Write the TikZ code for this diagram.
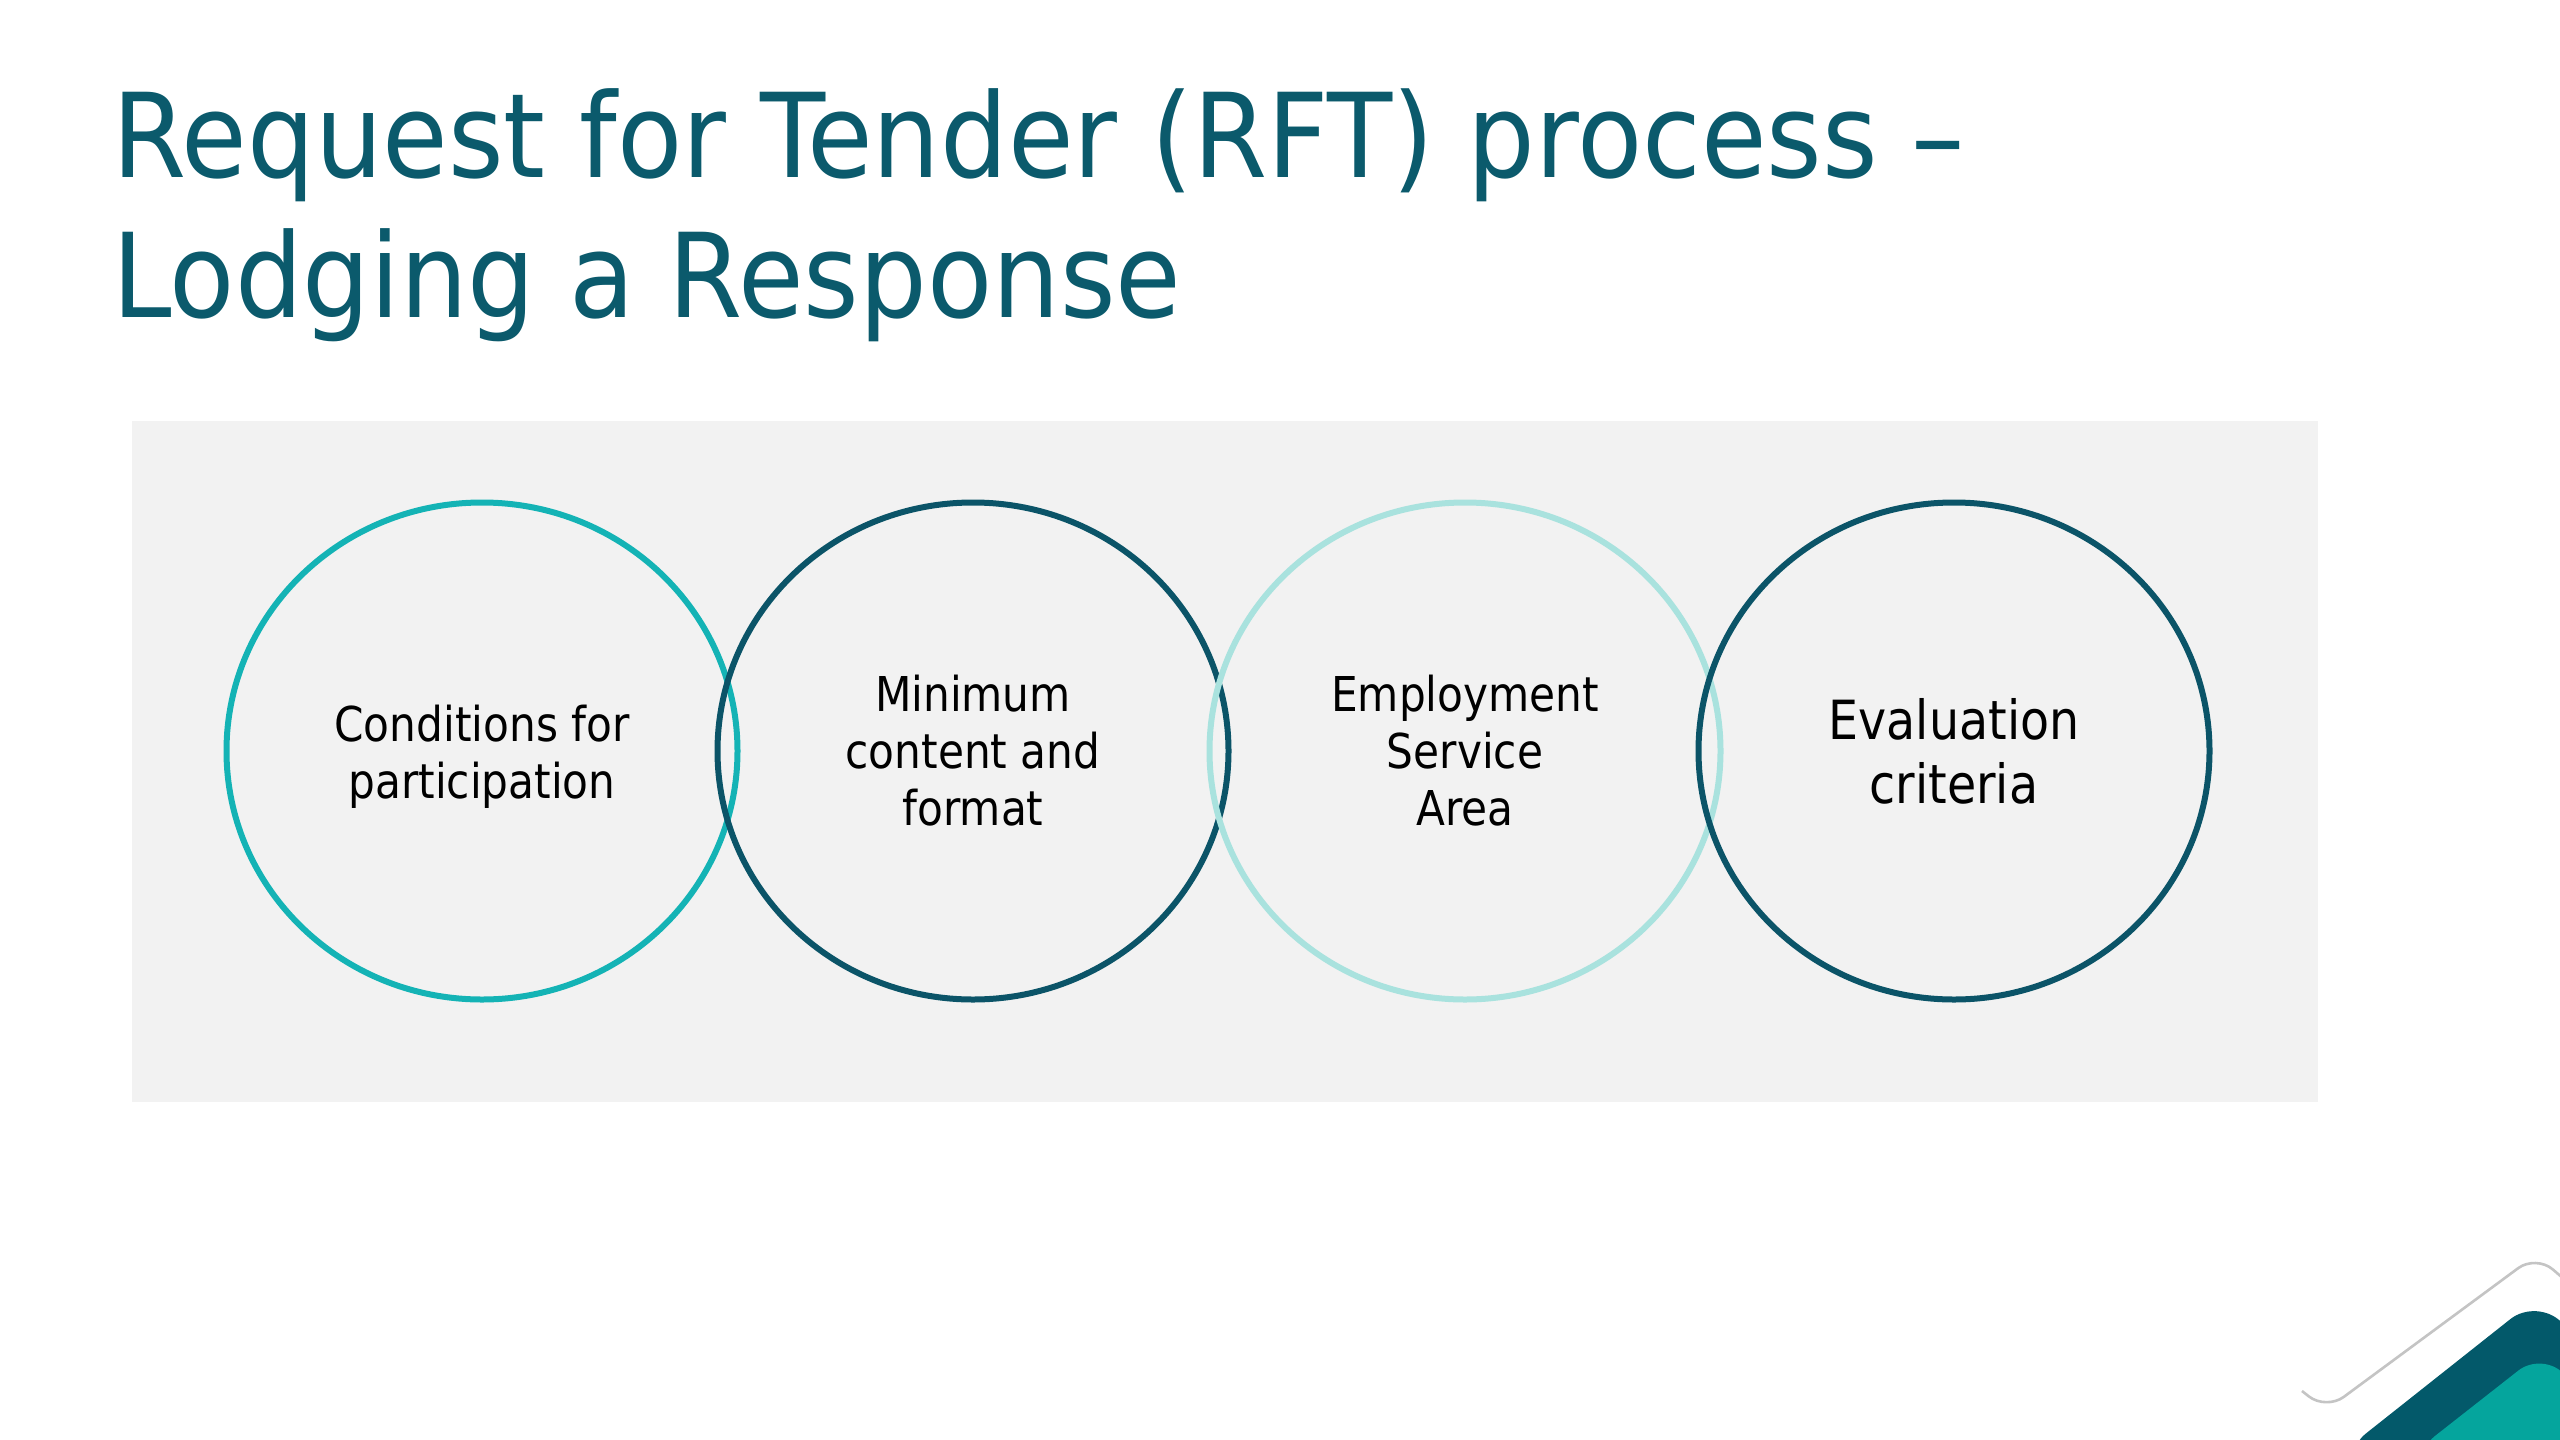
\documentclass[tikz,border=0pt]{standalone}
\usepackage{fontspec}
\usetikzlibrary{shapes.geometric}
\setmainfont{DejaVu Sans}[FakeStretch=0.88]
\newfontfamily\titlefont{DejaVu Sans}[FakeStretch=0.912]
\definecolor{titlecol}{HTML}{0B5A6C}
\definecolor{bgray}{HTML}{F2F2F2}
\definecolor{cteal}{HTML}{14B3B5}
\definecolor{cdark}{HTML}{0B5468}
\definecolor{clight}{HTML}{A9E2DE}
\definecolor{decodark}{HTML}{03596A}
\definecolor{decoteal}{HTML}{05A59D}
\definecolor{decogray}{HTML}{C4C4C4}
\tikzset{
  ring/.style={ellipse, minimum width=511pt, minimum height=497pt, inner sep=0pt, line width=6pt, align=center, text=black},
  ringtext/.style={font=\fontsize{48}{57}\selectfont, align=center, text=black, inner sep=0pt},
  ringbig/.style={font=\fontsize{54}{64}\selectfont},
}
\begin{document}
\begin{tikzpicture}[x=1pt,y=-1pt]
\useasboundingbox (0,0) rectangle (2560,1440);
\fill[white] (0,0) rectangle (2560,1440);
\node[anchor=base west, text=titlecol, font=\titlefont\fontsize{117}{140}\selectfont, inner sep=0pt, align=left] (title) at (112,317) {Request for Tender (RFT) process –\\Lodging a Response};
\fill[bgray] (132,421) rectangle (2318,1102);
\node[ring, draw=cteal] (c1) at (482,751) {};
\node[ringtext] (t1) at ([yshift=-6pt]c1.center) {Conditions for\\participation};
\node[ring, draw=cdark, ringtext] (c2) at (973,751) {Minimum\\content and\\format};
\node[ring, draw=clight, ringtext] (c3) at (1465,751) {Employment\\Service\\Area};
\node[ring, draw=cdark, ringbig] (c4) at (1954,751) {Evaluation\\criteria};
% decoration
\begin{scope}
\clip (2250,1200) rectangle (2560,1440);
\fill[decodark, rounded corners=34pt] (2340,1454) -- (2537,1298) -- (2640,1400) -- (2640,1460) -- cycle;
\fill[decoteal, rounded corners=30pt] (2412,1454) -- (2542,1352) -- (2640,1450) -- (2640,1460) -- cycle;
\draw[decogray, line width=2.6pt, rounded corners=22pt] (2302,1391) -- (2326,1410) -- (2536,1255) -- (2600,1310);
\end{scope}
\end{tikzpicture}
\end{document}
